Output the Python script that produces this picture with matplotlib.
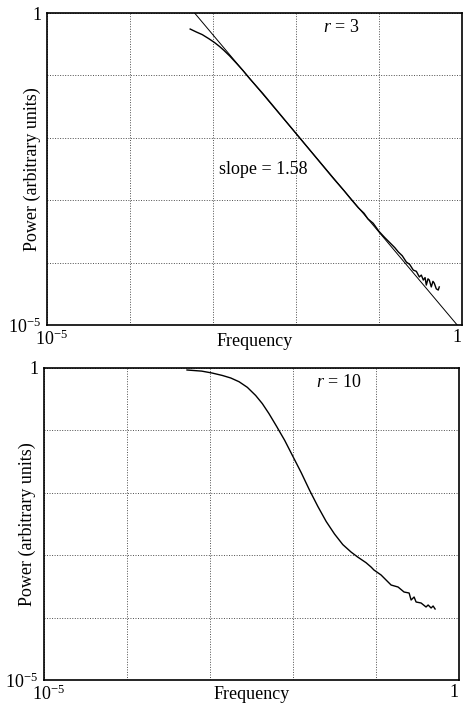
import numpy as np
import matplotlib as mpl
mpl.use('Agg')
import matplotlib.pyplot as plt
from matplotlib.transforms import ScaledTranslation

plt.rcParams['font.family'] = ['Liberation Serif', 'DejaVu Serif']
plt.rcParams['mathtext.fontset'] = 'custom'
plt.rcParams['mathtext.rm'] = 'Liberation Serif'
plt.rcParams['mathtext.it'] = 'Liberation Serif:italic'

# r = 3 spectrum, log10 values
r3_logf = [-3.275, -3.20, -3.13, -3.05, -2.984, -2.92, -2.87, -2.80, -2.72,
           -2.64, -2.559, -2.40, -2.20, -2.00, -1.85, -1.70, -1.55, -1.42,
           -1.34, -1.25, -1.18, -1.133, -1.07, -1.00, -0.93, -0.87, -0.81,
           -0.767, -0.72, -0.671, -0.63, -0.587, -0.55, -0.514, -0.49, -0.466,
           -0.445, -0.430, -0.41, -0.394, -0.370, -0.35, -0.334, -0.31, -0.286,
           -0.274]
r3_logp = [-0.257, -0.305, -0.346, -0.412, -0.471, -0.538, -0.597, -0.687,
           -0.802, -0.92, -1.05, -1.29, -1.61, -1.93, -2.17, -2.41, -2.65,
           -2.85, -2.98, -3.12, -3.21, -3.30, -3.37, -3.50, -3.60, -3.68,
           -3.76, -3.83, -3.89, -3.99, -4.03, -4.12, -4.14, -4.23, -4.20,
           -4.28, -4.24, -4.36, -4.26, -4.28, -4.39, -4.30, -4.33, -4.42,
           -4.44, -4.39]

# fitted power law, slope 1.58 (end points)
fit_logf = [-3.222, -0.058]
fit_logp = [0.0, -5.0]
fit_slope = 1.58

# r = 10 spectrum
r10_logf = [-3.277, -3.10, -2.976, -2.85, -2.75, -2.65, -2.55, -2.45, -2.37,
            -2.29, -2.20, -2.10, -2.00, -1.90, -1.80, -1.70, -1.60, -1.50,
            -1.40, -1.30, -1.22, -1.12, -1.059, -1.025, -0.939, -0.818,
            -0.734, -0.662, -0.601, -0.577, -0.541, -0.517, -0.457, -0.397,
            -0.372, -0.336, -0.312, -0.288]
r10_logp = [-0.032, -0.05, -0.08, -0.12, -0.16, -0.22, -0.31, -0.44, -0.57,
            -0.73, -0.93, -1.16, -1.42, -1.68, -1.96, -2.22, -2.46, -2.66,
            -2.83, -2.95, -3.03, -3.12, -3.19, -3.237, -3.317, -3.478,
            -3.510, -3.590, -3.606, -3.718, -3.670, -3.750, -3.766, -3.830,
            -3.798, -3.846, -3.814, -3.862]

decades = [1e-5, 1e-4, 1e-3, 1e-2, 1e-1, 1]


def style_axes(ax, tag, ylab_x, xlab_y):
    ax.set_xscale('log')
    ax.set_yscale('log')
    ax.set_xlim(1e-5, 1)
    ax.set_ylim(1e-5, 1)
    ax.set_xticks(decades)
    ax.set_yticks(decades)
    ax.set_xticklabels([r'$10^{-5}$', '', '', '', '', '1'])
    ax.set_yticklabels([r'$10^{-5}$', '', '', '', '', '1'])
    ax.minorticks_off()
    ax.tick_params(length=0, labelsize=13, pad=4)
    ax.tick_params(axis='x', pad=3)
    xl = ax.get_xticklabels()
    xl[-1].set_horizontalalignment('right')
    # nudge the lower-left x label to the right, as in the original
    xl[0].set_transform(xl[0].get_transform() +
                        ScaledTranslation(5 / 100, 0, fig.dpi_scale_trans))
    ax.grid(True, color='0.3', linestyle=(0, (1, 1.6)), linewidth=0.7)
    for s in ax.spines.values():
        s.set_linewidth(1.2)
    ax.set_xlabel('Frequency', fontsize=13)
    ax.set_ylabel('Power (arbitrary units)', fontsize=13)
    ax.xaxis.set_label_coords(0.5, xlab_y)
    ax.yaxis.set_label_coords(ylab_x, 0.5)
    ax.text(0.71, 0.955, tag, transform=ax.transAxes, fontsize=13,
            ha='center', va='center')


fig = plt.figure(figsize=(4.64, 7.03), dpi=100)
ax1 = fig.add_axes([47 / 464, 1 - 325 / 703, 415 / 464, 312 / 703])
ax2 = fig.add_axes([44 / 464, 1 - 680 / 703, 415 / 464, 312 / 703])

ax1.plot(10 ** np.array(fit_logf), 10 ** np.array(fit_logp), color='k', lw=0.7)
ax1.plot(10 ** np.array(r3_logf), 10 ** np.array(r3_logp), color='k', lw=1.0)
ax1.text(0.414, 0.5, 'slope = %.2f' % fit_slope, transform=ax1.transAxes,
         fontsize=13, ha='left', va='center')
style_axes(ax1, r'$r$ = 3', -0.015, -0.026)

ax2.plot(10 ** np.array(r10_logf), 10 ** np.array(r10_logp), color='k', lw=1.0)
style_axes(ax2, r'$r$ = 10', -0.02, -0.02)

fig.savefig('out.png', dpi=100)
